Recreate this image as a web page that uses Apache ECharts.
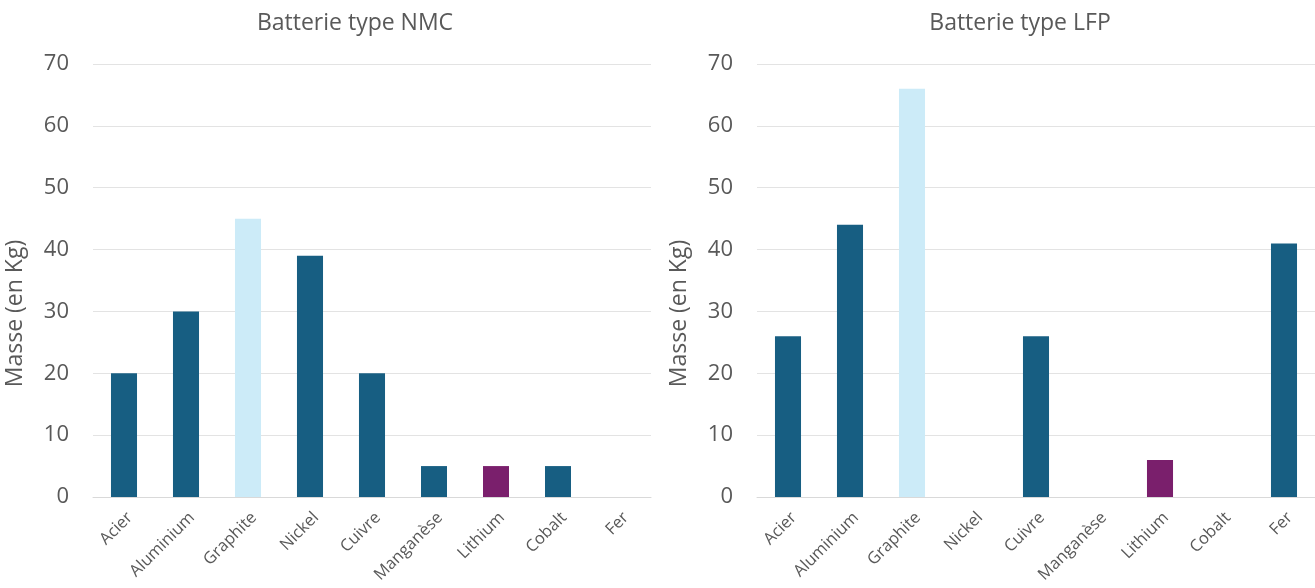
<!DOCTYPE html>
<html><head><meta charset="utf-8">
<script src="https://cdn.jsdelivr.net/npm/echarts@6/dist/echarts.min.js"></script>
<style>html,body{margin:0;padding:0;background:#fff}#c{width:1315px;height:588px}</style>
</head><body><div id="c"></div>
<script>
const categories = ['Acier','Aluminium','Graphite','Nickel','Cuivre','Manganèse','Lithium','Cobalt','Fer'];
const nmcValues = [20, 30, 45, 39, 20, 5, 5, 5, 0];
const lfpValues = [26, 44, 66, 0, 26, 0, 6, 0, 41];
const titles = ['Batterie type NMC', 'Batterie type LFP'];
const yAxisName = 'Masse (en Kg)';

const DARK = '#175E82', LIGHT = '#CCEBF8', PURPLE = '#7A1F6C';
const colorFor = (name) => name === 'Graphite' ? LIGHT : (name === 'Lithium' ? PURPLE : DARK);
const txt = '#595959';
const font = 'Open Sans';

const chart = echarts.init(document.getElementById('c'), null, {renderer: 'canvas'});
const grids = [
  {left: 93, width: 558, top: 64, height: 433, containLabel: false, outerBoundsMode: 'none'},
  {left: 757, width: 558, top: 64, height: 433, containLabel: false, outerBoundsMode: 'none'}
];
function xAxis(i) {
  return {type: 'category', gridIndex: i, data: categories,
    axisLine: {show: true, lineStyle: {color: '#D9D9D9'}}, axisTick: {show: false},
    axisLabel: {rotate: 45, color: txt, fontSize: 16.5, fontFamily: font, margin: 12, interval: 0, verticalAlign: 'top'}};
}
function yAxis(i) {
  return {type: 'value', gridIndex: i, min: 0, max: 70, interval: 10,
    name: yAxisName, nameLocation: 'middle', nameGap: 66, nameRotate: 90,
    nameTextStyle: {color: txt, fontSize: 23, fontFamily: font, padding: [0, 66, 0, 0]},
    axisLine: {show: false}, axisTick: {show: false},
    axisLabel: {color: txt, fontSize: 22, fontFamily: font, margin: 24},
    splitLine: {lineStyle: {color: '#E3E3E3', width: 1}}};
}
function series(i, vals) {
  return {type: 'bar', xAxisIndex: i, yAxisIndex: i, data: vals.map((v, k) => ({value: v, itemStyle: {color: colorFor(categories[k])}})),
    barWidth: '42%'};
}
const titleStyle = {color: txt, fontSize: 23, fontWeight: 'normal', fontFamily: font};
chart.setOption({
  animation: false,
  title: [
    {text: titles[0], left: 350, top: 7, textAlign: 'center', textStyle: titleStyle},
    {text: titles[1], left: 1015, top: 7, textAlign: 'center', textStyle: titleStyle}
  ],
  grid: grids,
  xAxis: [xAxis(0), xAxis(1)],
  yAxis: [yAxis(0), yAxis(1)],
  series: [series(0, nmcValues), series(1, lfpValues)]
});
</script></body></html>
